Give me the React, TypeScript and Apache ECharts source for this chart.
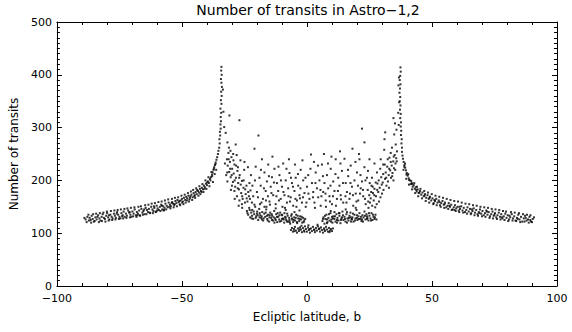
import React, { useEffect, useRef } from "react";
import * as echarts from "echarts";

const titleText = "Number of transits in Astro\u22121,2";
const xAxisName = "Ecliptic latitude, b";
const yAxisName = "Number of transits";

// Left wing of the distribution
const leftWing: number[][] = [
  [-88.5,126],[-87.8,131],[-87.2,124],[-86.9,129],[-86.1,133],[-85.7,127],[-85.2,122],[-84.6,130],[-84.1,126],[-83.5,134],
  [-83.0,128],[-82.6,124],[-82.1,131],[-81.7,136],[-81.2,129],[-80.8,127],[-80.3,133],[-79.9,138],[-79.5,130],[-79.0,126],
  [-78.6,135],[-78.1,131],[-77.7,128],[-77.2,137],[-76.8,133],[-76.4,129],[-75.9,140],[-75.5,135],[-75.0,131],[-74.6,128],
  [-74.2,138],[-73.7,134],[-73.3,141],[-72.9,131],[-72.4,137],[-72.0,133],[-71.5,143],[-71.1,139],[-70.6,135],[-70.2,131],
  [-69.8,141],[-69.3,137],[-68.9,145],[-68.4,134],[-68.0,140],[-67.6,137],[-67.1,143],[-66.7,133],[-66.2,146],[-65.8,139],
  [-65.4,142],[-64.9,136],[-64.5,148],[-64.0,144],[-63.6,140],[-63.2,146],[-62.7,138],[-62.3,150],[-61.8,145],[-61.4,142],
  [-61.0,148],[-60.5,140],[-60.1,152],[-59.7,147],[-59.2,144],[-58.8,150],[-58.3,154],[-57.9,145],[-57.5,151],[-57.0,148],
  [-56.6,156],[-56.1,152],[-55.7,149],[-55.3,158],[-54.8,154],[-54.4,151],[-53.9,159],[-53.5,156],[-53.1,153],[-52.6,161],
  [-52.2,157],[-51.8,163],[-51.3,159],[-50.9,155],[-50.5,162],[-50.0,165],[-49.6,160],[-49.2,167],[-48.7,163],[-48.3,169],
  [-47.9,166],[-47.4,171],[-47.0,164],[-46.6,170],[-46.2,173],[-45.7,168],[-45.3,176],[-44.9,172],[-44.5,178],[-44.1,174],
  [-43.6,180],[-43.2,177],[-42.8,184],[-42.4,180],[-42.0,186],[-41.6,183],[-41.2,190],[-40.8,187],[-40.4,194],[-40.0,191],
  [-39.6,198],[-39.2,195],[-38.8,203],[-38.4,206],[-38.0,211],[-37.7,215],[-37.4,220],[-37.1,225],[-36.8,229],[-36.5,234],
  [-36.2,239],[-35.9,244],[-35.6,250],[-35.4,256],
  [-61.2,151],[-59.9,143],[-58.0,152],[-57.2,144],[-55.0,150],[-54.1,157],[-52.9,155],[-51.0,161],[-49.9,158],[-48.0,162],
  [-46.8,167],[-45.0,170],[-43.9,182],[-42.2,178],[-41.0,184],[-39.9,196],[-38.6,200],[-37.9,208],[-37.2,222],[-36.6,231],
  [-65.1,145],[-67.8,134],[-70.9,140],[-73.9,132],[-76.1,137],[-79.2,134],[-83.8,131],[-86.5,125]
];

const leftWingOuter: number[][] = [
  [-89.0,129],[-88.1,121],[-87.4,135],[-86.3,120],[-85.5,136],[-84.9,123],[-84.3,137],[-83.2,121],[-82.8,138],[-82.0,123],
  [-81.4,139],[-80.6,122],[-80.0,141],[-79.3,124],[-78.4,142],[-77.9,125],[-77.0,143],[-76.6,126],[-75.7,144],[-75.2,127],
  [-74.4,145],[-73.5,128],[-73.0,146],[-72.2,129],[-71.8,147],[-70.8,130],[-70.4,148],[-69.5,132],[-69.0,149],[-68.2,131],
  [-67.4,150],[-66.9,134],[-66.4,151],[-65.6,135],[-64.7,153],[-64.2,136],[-63.4,154],[-62.9,139],[-62.1,156],[-61.6,138],
  [-60.8,157],[-60.3,141],[-59.4,159],[-58.6,142],[-58.1,160],[-57.3,143],[-56.8,162],[-56.3,145],[-55.5,164],[-54.6,147],
  [-54.0,165],[-53.3,149],[-52.8,167],[-52.0,151],[-51.5,168],[-50.7,153],[-50.2,171],[-49.4,155],[-48.9,173],[-48.5,158],
  [-47.6,176],[-47.2,160],[-46.4,179],[-45.9,163],[-45.5,182],[-44.7,167],[-44.3,185],[-43.4,171],[-43.0,189],[-42.6,174],
  [-41.8,193],[-41.4,178],[-40.6,200],[-40.2,184],[-39.4,206],[-39.0,189],[-38.2,216],[-37.6,197],[-36.9,212],[-36.3,220]
];

const leftSpike: number[][] = [
  [-35.1,262],[-34.9,270],[-35.0,278],[-34.7,285],[-34.8,292],[-34.5,298],[-34.6,306],[-34.4,312],[-34.5,320],[-34.3,328],
  [-34.6,336],[-34.2,345],[-34.4,352],[-34.1,360],[-34.3,368],[-34.0,377],[-34.2,385],[-34.4,392],[-34.1,400],[-34.3,408],
  [-34.2,415],[-33.6,372],[-33.4,330],[-33.1,301]
];

const rightWing: number[][] = [
  [90.3,127],[89.6,122],[89.0,131],[88.4,126],[87.8,124],[87.2,133],[86.7,128],[86.1,122],[85.6,131],[85.0,126],
  [84.5,135],[84.0,129],[83.4,124],[82.9,132],[82.4,128],[81.9,136],[81.3,130],[80.8,126],[80.3,134],[79.8,129],
  [79.3,137],[78.7,132],[78.2,128],[77.7,136],[77.2,131],[76.7,139],[76.2,134],[75.7,130],[75.2,138],[74.7,133],
  [74.2,141],[73.7,136],[73.2,132],[72.7,140],[72.2,135],[71.7,143],[71.2,138],[70.7,134],[70.2,142],[69.7,137],
  [69.2,145],[68.7,140],[68.2,136],[67.7,144],[67.2,139],[66.7,147],[66.2,142],[65.7,138],[65.2,146],[64.7,141],
  [64.2,149],[63.7,144],[63.2,140],[62.7,148],[62.2,143],[61.7,151],[61.2,146],[60.7,143],[60.2,150],[59.7,147],
  [59.2,153],[58.7,149],[58.2,145],[57.7,154],[57.2,150],[56.7,157],[56.2,152],[55.7,149],[55.2,158],[54.7,154],
  [54.2,161],[53.7,157],[53.2,153],[52.7,162],[52.2,158],[51.7,165],[51.2,161],[50.7,157],[50.2,166],[49.7,162],
  [49.2,169],[48.7,165],[48.2,172],[47.7,167],[47.2,174],[46.7,170],[46.2,177],[45.7,173],[45.2,180],[44.7,176],
  [44.3,183],[43.9,179],[43.5,187],[43.1,184],[42.7,191],[42.3,188],[41.9,195],[41.5,193],[41.1,200],[40.7,204],
  [40.3,209],[39.9,214],[39.6,219],[39.3,224],[39.0,229],[38.7,235],[38.4,241],[38.2,247],[38.0,254],
  [61.0,150],[59.0,144],[57.0,152],[55.0,155],[53.0,159],[51.0,163],[49.0,167],[47.0,171],[45.0,177],[43.7,182],
  [42.1,193],[40.9,201],[39.8,211],[38.9,226],[66.0,145],[69.0,138],[72.0,141],[75.0,135],[78.0,130],[81.0,133],
  [84.3,127],[87.5,129],[89.3,125]
];

const rightWingOuter: number[][] = [
  [90.8,130],[90.0,121],[89.4,134],[88.7,120],[88.0,135],[87.0,122],[86.4,136],[85.3,121],[84.8,138],[83.7,123],
  [83.1,139],[82.2,124],[81.6,140],[80.5,123],[79.6,141],[79.0,125],[78.4,142],[77.4,126],[76.9,144],[76.0,127],
  [75.4,145],[74.4,128],[73.9,146],[73.0,129],[72.4,148],[71.4,131],[70.9,149],[70.0,132],[69.4,150],[68.4,133],
  [67.9,152],[67.0,134],[66.4,153],[65.5,136],[64.9,155],[64.0,137],[63.4,156],[62.5,139],[61.9,158],[60.9,140],
  [60.4,160],[59.5,142],[58.9,161],[57.9,144],[57.4,163],[56.5,146],[55.9,165],[54.9,148],[54.4,167],[53.5,150],
  [52.9,169],[51.9,153],[51.4,171],[50.5,155],[49.9,174],[48.9,158],[48.4,177],[47.5,161],[46.9,180],[46.0,166],
  [45.4,184],[44.5,170],[44.0,188],[43.3,176],[42.9,195],[42.0,183],[41.7,199],[40.8,192],[40.5,212],[39.7,203],
  [39.2,232],[38.6,220]
];

const rightSpike: number[][] = [
  [38.0,262],[37.8,270],[37.9,278],[37.6,286],[37.7,294],[37.5,302],[37.6,310],[37.3,318],[37.5,326],[37.2,334],
  [37.4,342],[37.1,350],[37.3,358],[37.0,366],[37.2,374],[37.4,382],[37.1,390],[37.3,398],[37.5,406],[37.4,414],
  [36.8,395],[36.6,380],[36.9,348],[36.5,328],[36.7,305],[34.6,318],[35.2,308],[35.8,296],[34.9,287]
];

// Low cluster at the ecliptic
const bottomCluster: number[][] = [
  [-6.4,106],[-6.0,110],[-5.6,103],[-5.2,108],[-4.8,112],[-4.4,105],[-4.0,101],[-3.6,109],[-3.2,104],[-2.8,111],
  [-2.4,107],[-2.0,102],[-1.6,110],[-1.2,105],[-0.8,113],[-0.4,108],[0.0,103],[0.4,111],[0.8,106],[1.2,101],
  [1.6,109],[2.0,104],[2.4,112],[2.8,107],[3.2,102],[3.6,110],[4.0,105],[4.4,113],[4.8,108],[5.2,103],
  [5.6,111],[6.0,106],[6.4,101],[6.8,109],[7.2,104],[7.6,112],[8.0,107],[8.4,103],[8.8,110],[9.2,105],
  [9.6,108],[10.0,104],[10.4,109],[-5.0,104],[-3.0,107],[-1.0,103],[1.0,108],[3.0,106],[5.0,109],[7.0,107],
  [9.0,102],[-2.2,114],[0.6,115],[4.2,116]
];

const leftLowCluster: number[][] = [
  [-24.0,142],[-23.5,135],[-23.1,148],[-22.7,130],[-22.3,139],[-21.9,144],[-21.5,127],[-21.1,136],[-20.7,150],[-20.3,132],
  [-19.9,141],[-19.5,125],[-19.1,146],[-18.7,134],[-18.3,129],[-17.9,140],[-17.5,124],[-17.1,137],[-16.7,131],[-16.3,145],
  [-15.9,127],[-15.5,135],[-15.1,122],[-14.7,139],[-14.3,129],[-13.9,133],[-13.5,124],[-13.1,142],[-12.7,128],[-12.3,136],
  [-11.9,121],[-11.5,131],[-11.1,126],[-10.7,139],[-10.3,123],[-9.9,134],[-9.5,128],[-9.1,120],[-8.7,131],[-8.3,125],
  [-7.9,137],[-7.5,122],[-7.1,129],[-6.7,118],[-6.3,133],[-5.9,126],[-5.5,121],[-5.1,130],[-4.7,124],[-4.3,135],
  [-3.9,119],[-3.5,128],[-3.1,123],[-2.7,132],[-2.3,126],[-1.9,120],[-1.5,129],[-1.1,124],[-20.0,137],[-18.0,126],
  [-16.0,133],[-14.0,125],[-12.0,131],[-10.0,127],[-8.0,122],[-6.0,128],[-4.0,121],[-22.0,133],[-19.0,130],[-15.0,130],
  [-11.0,134],[-7.0,125],[-13.0,120],[-9.0,138],[-17.0,150],[-21.0,154],[-12.5,147],[-8.5,144],[-5.0,140],[-3.0,143],
  [-23.8,138],[-22.9,144],[-22.1,128],[-21.3,141],[-20.5,129],[-19.7,134],[-18.9,138],[-18.1,132],[-17.3,128],[-16.5,139],
  [-15.7,124],[-14.9,134],[-14.1,136],[-13.3,130],[-12.5,125],[-11.7,138],[-10.9,122],[-10.1,135],[-9.3,126],[-8.5,129],
  [-7.7,133],[-6.9,121],[-6.1,136],[-5.3,125],[-4.5,129],[-3.7,133],[-2.9,127],[-2.1,131],[-1.3,121],[-0.7,127]
];

const rightLowCluster: number[][] = [
  [6.2,123],[6.6,130],[7.0,118],[7.4,127],[7.8,135],[8.2,121],[8.6,129],[9.0,124],[9.4,138],[9.8,126],
  [10.2,120],[10.6,132],[11.0,127],[11.4,122],[11.8,136],[12.2,129],[12.6,124],[13.0,133],[13.4,119],[13.8,128],
  [14.2,141],[14.6,125],[15.0,131],[15.4,122],[15.8,136],[16.2,128],[16.6,124],[17.0,133],[17.4,139],[17.8,126],
  [18.2,130],[18.6,122],[19.0,135],[19.4,128],[19.8,144],[20.2,125],[20.6,132],[21.0,138],[21.4,127],[21.8,123],
  [22.2,134],[22.6,130],[23.0,141],[23.4,126],[23.8,136],[24.2,129],[24.6,124],[25.0,133],[25.4,128],[25.8,138],
  [26.2,125],[26.6,131],[27.0,127],[27.4,135],[8.0,126],[10.0,131],[12.0,125],[14.0,130],[16.0,120],[18.0,127],
  [20.0,129],[22.0,126],[24.0,132],[11.0,140],[15.5,145],[19.5,148],[9.5,142],[13.0,138],[17.5,130],
  [6.4,127],[7.2,133],[8.0,119],[8.8,136],[9.6,122],[10.4,128],[11.2,132],[12.0,120],[12.8,138],[13.6,125],
  [14.4,134],[15.2,127],[16.0,140],[16.8,129],[17.6,122],[18.4,137],[19.2,124],[20.0,134],[20.8,127],[21.6,131],
  [22.4,122],[23.2,133],[24.0,127],[24.8,138],[25.6,124],[26.4,135],[27.2,130],[27.8,126]
];

const leftColumn: number[][] = [
  [-32.0,240],[-31.7,228],[-31.4,252],[-31.1,216],[-30.8,235],[-30.5,206],[-30.2,244],[-29.9,222],[-29.6,197],[-29.3,213],
  [-29.0,230],[-28.7,188],[-28.4,205],[-28.1,248],[-27.8,218],[-27.5,195],[-27.2,183],[-26.9,210],[-26.6,238],[-26.3,176],
  [-26.0,199],[-25.7,165],[-25.4,186],[-25.1,220],[-24.8,158],[-24.5,174],[-31.2,262],[-30.0,190],[-29.0,180],[-28.0,170],
  [-27.0,162],[-26.0,155],[-30.6,256],[-29.4,238],[-27.6,225],[-32.3,210],[-31.8,198],[-30.4,182],[-28.9,165],[-27.3,152],
  [-25.9,148],[-24.2,190],[-23.8,160],[-23.2,170],[-22.6,181],[-22.0,158],[-31.0,323],[-27.0,314],[-32.5,290],[-31.8,272],
  [-28.5,268],
  [-32.8,232],[-31.9,215],[-31.3,240],[-30.7,222],[-30.1,210],[-29.5,250],[-28.9,200],[-28.3,228],[-27.7,185],[-27.1,205],
  [-26.5,192],[-25.9,170],[-25.3,200],[-24.7,183],[-24.1,166],[-23.5,178]
];

const rightColumn: number[][] = [
  [36.0,255],[35.7,242],[35.4,232],[35.1,248],[34.8,223],[34.5,236],[34.2,214],[33.9,228],[33.6,205],[33.3,219],
  [33.0,243],[32.7,210],[32.4,198],[32.1,226],[31.8,190],[31.5,215],[31.2,203],[30.9,258],[30.6,182],[30.3,196],
  [30.0,175],[29.7,206],[29.4,168],[29.1,186],[28.8,160],[28.5,178],[28.2,194],[27.9,155],[27.6,170],[27.3,149],
  [27.0,184],[26.7,162],[26.4,176],[26.1,152],[25.8,190],[25.5,166],[25.2,158],[24.9,172],[24.6,148],[24.3,182],
  [35.5,268],[34.0,262],[31.0,278],[31.3,291],[33.5,252],[29.5,240],[30.5,230],[28.0,215],[27.0,232],[32.8,186],
  [34.6,200],[23.0,272],[22.0,298],[25.0,240],[26.0,205],
  [35.9,236],[35.3,220],[34.7,245],[34.1,208],[33.5,235],[32.9,222],[32.3,240],[31.7,205],[31.1,230],[30.5,212],
  [29.9,192],[29.3,222],[28.7,200],[28.1,182],[27.5,196],[26.9,172],[26.3,188],[25.7,178],[25.1,195],[24.5,160]
];

const middleScatter: number[][] = [
  [-23.0,195],[-22.4,210],[-21.0,260],[-20.5,226],[-20.0,178],[-19.4,285],[-19.0,205],[-18.5,190],[-18.0,240],[-17.6,165],
  [-17.0,215],[-16.5,180],[-16.0,198],[-15.5,230],[-15.0,160],[-14.5,188],[-14.0,206],[-13.5,172],[-13.0,222],[-12.5,155],
  [-12.0,195],[-11.5,180],[-11.0,210],[-10.5,165],[-10.0,188],[-9.5,232],[-9.0,172],[-8.5,200],[-8.0,158],[-7.5,185],
  [-7.0,214],[-6.5,168],[-6.0,195],[-5.5,152],[-5.0,180],[-4.5,205],[-4.0,162],[-3.5,190],[-3.0,172],[-2.5,220],
  [-2.0,158],[-1.5,200],[-1.0,176],[-0.5,150],[0.0,188],[0.5,210],[1.0,165],[1.6,249],[2.0,195],[2.5,178],
  [3.0,158],[3.5,215],[4.0,185],[4.5,168],[5.0,200],[5.5,152],[6.0,230],[6.5,178],[7.0,195],[7.5,162],
  [8.0,210],[8.5,185],[9.0,170],[9.5,222],[10.0,155],[10.5,198],[11.0,180],[11.5,240],[12.0,165],[12.5,205],
  [13.0,190],[13.5,172],[14.0,218],[14.5,158],[15.0,241],[15.5,195],[16.0,178],[16.5,208],[17.0,165],[17.5,228],
  [18.0,188],[18.5,152],[19.0,200],[19.5,175],[20.0,215],[20.5,162],[21.0,240],[21.5,185],[22.0,198],[22.5,170],
  [23.0,225],[23.5,155],[24.0,205],[-21.5,170],[-18.8,155],[-16.2,150],[-13.8,245],[-9.8,150],[-7.2,240],[-4.8,230],
  [-1.8,238],[2.8,235],[6.8,250],[9.8,245],[13.2,255],[18.2,260],[20.8,250],[-23.6,225],[-25.0,235],
  [-18.2,158],[-14.8,154],[-11.2,162],[-8.8,148],[-4.2,150],[-0.2,158],[3.2,148],[7.6,150],[11.6,152],[15.8,158],
  [19.8,160],[23.2,165],[-2.8,166],[5.8,170],[9.2,160],[13.6,164],[17.2,175],[21.2,175],[-6.8,160],[-15.6,170],
  [-22.8,165],[-21.8,190],[-20.8,200],[-19.6,168],[-18.4,220],[-17.2,185],[-16.4,162],[-15.2,208],[-14.2,176],[-13.2,196],
  [-12.2,170],[-11.4,226],[-10.4,200],[-9.4,178],[-8.2,222],[-7.4,170],[-6.4,205],[-5.6,188],[-4.6,165],[-3.6,212],
  [-2.6,185],[-1.6,168],[-0.6,205],[0.6,175],[1.4,222],[2.4,168],[3.4,195],[4.4,228],[5.4,182],[6.4,208],
  [7.4,175],[8.4,232],[9.4,190],[10.4,170],[11.4,212],[12.4,180],[13.4,232],[14.4,195],[15.4,170],[16.4,220],
  [17.4,195],[18.4,172],[19.4,235],[20.4,190],[21.4,210],[22.4,182],[23.4,200],[24.4,218]
];

const xTicks = { min: -100, max: 100, interval: 50 };
const yTicks = { min: 0, max: 500, interval: 100 };

const FONT = '"DejaVu Sans", sans-serif';

export default function App() {
  const ref = useRef<HTMLDivElement>(null);
  useEffect(() => {
    if (!ref.current) return;
    const chart = echarts.init(ref.current, undefined, { renderer: "svg" });
    const allPoints = [
      ...leftWing, ...leftWingOuter, ...leftSpike, ...rightWing, ...rightWingOuter, ...rightSpike,
      ...bottomCluster, ...leftLowCluster, ...rightLowCluster, ...leftColumn, ...rightColumn, ...middleScatter,
    ];
    const axisCommon = {
      axisLine: { show: true, onZero: false, lineStyle: { color: "#000", width: 1 } },
      axisTick: { show: true, inside: true, length: 5, lineStyle: { color: "#000", width: 1 } },
      splitLine: { show: false },
    };
    const fmt = (v: number) => String(v).replace("-", "\u2212");
    chart.setOption({
      animation: false,
      backgroundColor: "#fff",
      textStyle: { fontFamily: FONT },
      graphic: [
        {
          type: "text",
          x: 308,
          y: 3,
          style: { text: titleText, font: `14px ${FONT}`, fill: "#000", textAlign: "center" },
        },
      ],
      grid: { left: 51, right: 15, top: 22, bottom: 46, containLabel: false },
      xAxis: [
        {
          type: "value", position: "bottom", ...xTicks, ...axisCommon,
          minorTick: { show: true, splitNumber: 5, length: 3, lineStyle: { color: "#000" } },
          axisLabel: { formatter: fmt, color: "#000", fontSize: 11, fontFamily: FONT, margin: 7 },
          name: xAxisName, nameLocation: "middle", nameGap: 25,
          nameTextStyle: { color: "#000", fontSize: 12, fontFamily: FONT },
        },
        {
          type: "value", position: "top", ...xTicks, ...axisCommon,
          minorTick: { show: true, splitNumber: 5, length: 3, lineStyle: { color: "#000" } },
          axisLabel: { show: false },
        },
      ],
      yAxis: [
        {
          type: "value", position: "left", ...yTicks, ...axisCommon,
          minorTick: { show: true, splitNumber: 10, length: 3, lineStyle: { color: "#000" } },
          axisLabel: { color: "#000", fontSize: 11, fontFamily: FONT, margin: 5 },
          name: yAxisName, nameLocation: "middle", nameGap: 30,
          nameTextStyle: { color: "#000", fontSize: 12, fontFamily: FONT },
        },
        {
          type: "value", position: "right", ...yTicks, ...axisCommon,
          minorTick: { show: true, splitNumber: 10, length: 3, lineStyle: { color: "#000" } },
          axisLabel: { show: false },
        },
      ],
      series: [
        {
          type: "scatter",
          xAxisIndex: 0,
          yAxisIndex: 0,
          data: allPoints,
          symbol: "rect",
          symbolSize: 2,
          itemStyle: { color: "#000" },
        },
      ],
    });
    return () => chart.dispose();
  }, []);
  return <div ref={ref} style={{ position: "fixed", left: 0, top: 0, width: 572, height: 332 }} />;
}
